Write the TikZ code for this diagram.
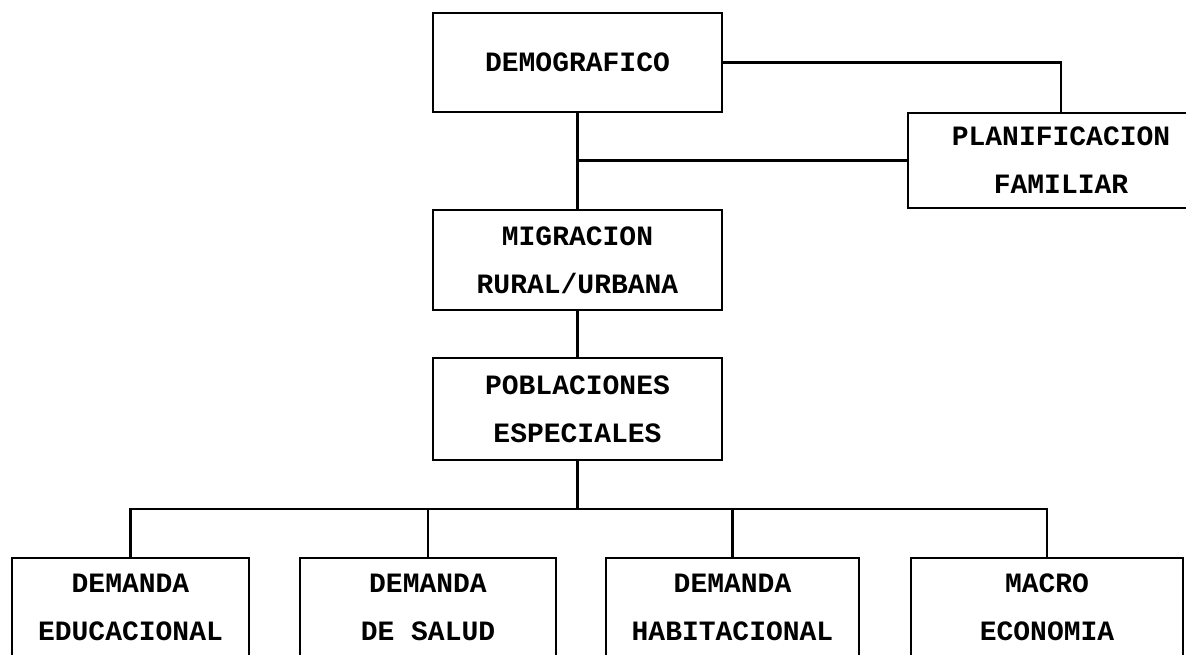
\documentclass[tikz,border=0pt]{standalone}
\usepackage{fontspec}
\usepackage{tikz}
\newfontfamily\typewriter{Liberation Mono}

\begin{document}
\begin{tikzpicture}[x=0.5pt, y=-0.5pt, line width=1.2pt,
    caja/.style={draw, rectangle, align=center, inner sep=0pt,
                 font=\typewriter\bfseries\fontsize{14}{24}\selectfont}]
    % Page frame
    \clip (0,0) rectangle (1186,654);

    % Upper chain
    \node[caja, minimum width=144.5pt, minimum height=49.5pt] (demo) at (577.5,62.5) {DEMOGRAFICO};
    \node[caja, minimum width=153pt, minimum height=47.5pt] (plan) at (1061,160.5) {PLANIFICACION\\FAMILIAR};
    \node[caja, minimum width=144.5pt, minimum height=50pt] (migr) at (577.5,260) {MIGRACION\\RURAL/URBANA};
    \node[caja, minimum width=144.5pt, minimum height=51pt] (pobl) at (577.5,409) {POBLACIONES\\ESPECIALES};

    % Bottom row
    \node[caja, minimum width=118.5pt, minimum height=49pt] (educ) at (130.5,607) {DEMANDA\\EDUCACIONAL};
    \node[caja, minimum width=128pt, minimum height=49pt] (salud) at (428,607) {DEMANDA\\DE SALUD};
    \node[caja, minimum width=126.5pt, minimum height=49pt] (habit) at (732.5,607) {DEMANDA\\HABITACIONAL};
    \node[caja, minimum width=136pt, minimum height=49pt] (macro) at (1047,607) {MACRO\\ECONOMIA};

    % Connectors
    \draw (demo.east) -| (plan.north);
    \draw (plan.west) -- (plan.west -| demo.south);
    \draw (demo.south) -- (migr.north);
    \draw (migr.south) -- (pobl.north);
    \draw (pobl.south) -- ++(0,48) coordinate (bus);
    \draw (educ.north) |- (bus) -| (macro.north);
    \draw (salud.north) -- (salud.north |- bus);
    \draw (habit.north) -- (habit.north |- bus);
\end{tikzpicture}
\end{document}
